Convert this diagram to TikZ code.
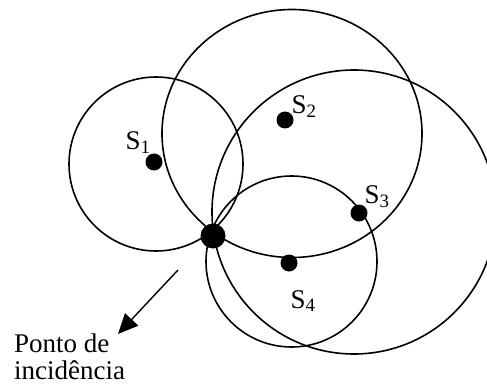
\documentclass[tikz,border=0pt]{standalone}
\usepackage{fontspec}
\setmainfont{Liberation Serif}
\usetikzlibrary{arrows.meta}

\begin{document}
\begin{tikzpicture}[
    x=1pt, y=-1pt,
    ring/.style={line width=1.6pt},
    sdot/.style={circle, fill=black, inner sep=0pt, minimum size=17pt},
    lbl/.style={font=\fontsize{27}{26.5}\selectfont, inner sep=0pt}
]
\useasboundingbox (0,0) rectangle (487,385);
% centres of the circles
\coordinate (c1) at (156,164);
\coordinate (c2) at (292,133.5);
\coordinate (c3) at (354,212);
\coordinate (c4) at (291.5,261.5);
\draw[ring] (c1) circle[radius=87pt];
\draw[ring] (c2) ellipse[x radius=130pt, y radius=124pt];
\draw[ring] (c3) circle[radius=142pt];
\draw[ring] (c4) circle[radius=85.5pt];
% sensors and incidence point
\node[sdot] (s1) at (154,162) {};
\node[sdot] (s2) at (285,120) {};
\node[sdot] (s3) at (359,213) {};
\node[sdot] (s4) at (289,263) {};
\node[sdot, minimum size=25pt] (p) at (213,236) {};
% labels
\node[lbl] (l1) at (138,143) {S\textsubscript{1}};
\node[lbl] (l2) at (304,107) {S\textsubscript{2}};
\node[lbl] (l3) at (377,197) {S\textsubscript{3}};
\node[lbl] (l4) at (303,301) {S\textsubscript{4}};
\node[lbl, align=left, anchor=north west] (txt) at (14,334) {Ponto de\\incidência};
% arrow
\coordinate (tail) at (178,270);
\coordinate (tip) at (118,334);
\draw[line width=1.4pt, -{Triangle[length=20pt,width=18pt]}] (tail) -- (tip);
\end{tikzpicture}
\end{document}
